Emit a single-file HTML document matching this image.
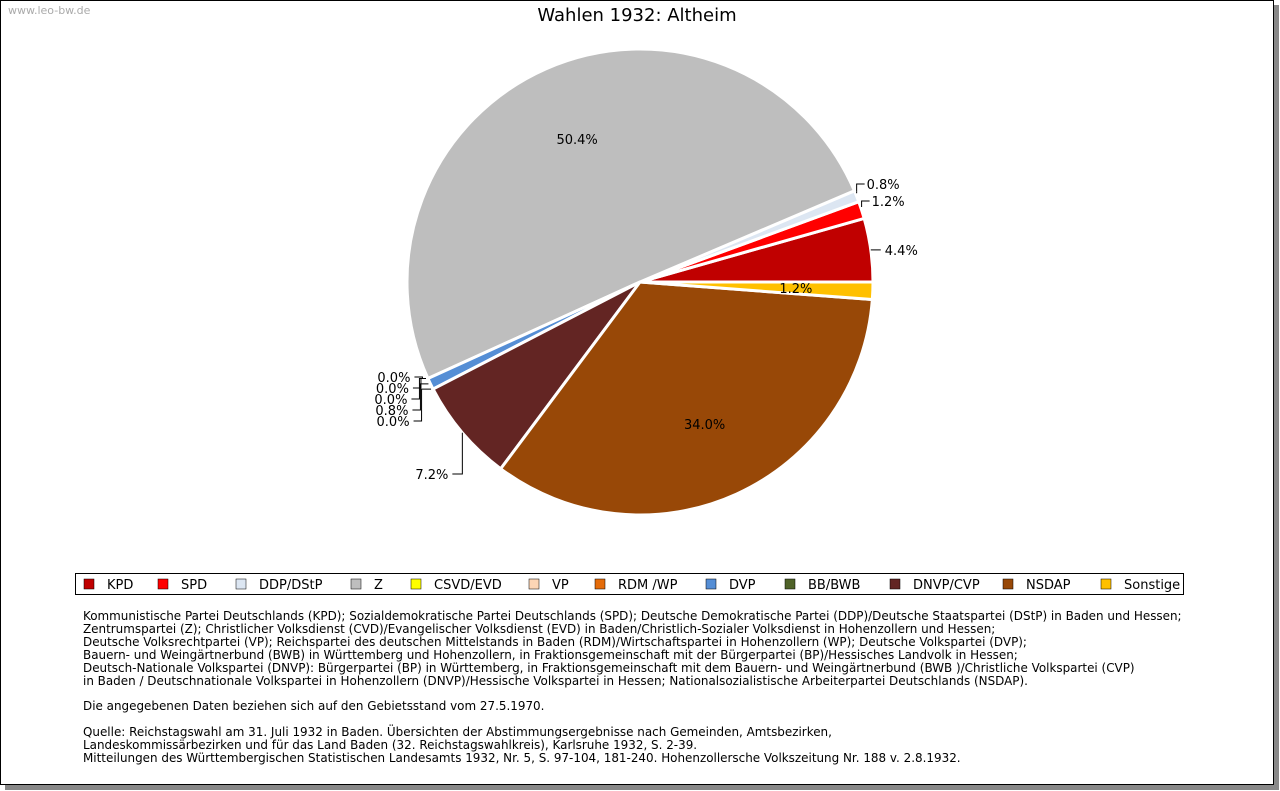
<!DOCTYPE html>
<html><head><meta charset="utf-8"><style>
body{margin:0;background:#fff;width:1280px;height:791px;overflow:hidden;font-family:"DejaVu Sans","Liberation Sans",sans-serif}
#frame{position:absolute;left:0;top:0;width:1272px;height:783px;border:1px solid #000;box-shadow:5px 5px 0 #888;background:#fff}
#notes{position:absolute;left:83px;top:610px;font-size:11.95px;line-height:12.9px;color:#000;white-space:pre}
</style></head><body>
<div id="frame"></div>
<div style="position:absolute;left:8px;top:4px;font-size:11px;color:#aaa">www.leo-bw.de</div>
<svg id="chart" width="1280" height="791" style="position:absolute;left:0;top:0">
<text x="637" y="21" text-anchor="middle" font-size="18">Wahlen 1932: Altheim</text>
<g id="pie"></g>
<g id="legend"></g>
</svg>
<div id="notes">Kommunistische Partei Deutschlands (KPD); Sozialdemokratische Partei Deutschlands (SPD); Deutsche Demokratische Partei (DDP)/Deutsche Staatspartei (DStP) in Baden und Hessen;
Zentrumspartei (Z); Christlicher Volksdienst (CVD)/Evangelischer Volksdienst (EVD) in Baden/Christlich-Sozialer Volksdienst in Hohenzollern und Hessen;
Deutsche Volksrechtpartei (VP); Reichspartei des deutschen Mittelstands in Baden (RDM)/Wirtschaftspartei in Hohenzollern (WP); Deutsche Volkspartei (DVP);
Bauern- und Weingärtnerbund (BWB) in Württemberg und Hohenzollern, in Fraktionsgemeinschaft mit der Bürgerpartei (BP)/Hessisches Landvolk in Hessen;
Deutsch-Nationale Volkspartei (DNVP): Bürgerpartei (BP) in Württemberg, in Fraktionsgemeinschaft mit dem Bauern- und Weingärtnerbund (BWB )/Christliche Volkspartei (CVP)
in Baden / Deutschnationale Volkspartei in Hohenzollern (DNVP)/Hessische Volkspartei in Hessen; Nationalsozialistische Arbeiterpartei Deutschlands (NSDAP).

Die angegebenen Daten beziehen sich auf den Gebietsstand vom 27.5.1970.

Quelle: Reichstagswahl am 31. Juli 1932 in Baden. Übersichten der Abstimmungsergebnisse nach Gemeinden, Amtsbezirken,
Landeskommissärbezirken und für das Land Baden (32. Reichstagswahlkreis), Karlsruhe 1932, S. 2-39.
Mitteilungen des Württembergischen Statistischen Landesamts 1932, Nr. 5, S. 97-104, 181-240. Hohenzollersche Volkszeitung Nr. 188 v. 2.8.1932.</div>
<script>
const parties=["KPD","SPD","DDP/DStP","Z","CSVD/EVD","VP","RDM /WP","DVP","BB/BWB","DNVP/CVP","NSDAP","Sonstige"];
const shares=[4.4,1.2,0.8,50.4,0.0,0.0,0.0,0.8,0.0,7.2,34.0,1.2];
const colors=["#c00000","#ff0000","#dce6f2","#bebebe","#ffff00","#fcd5b5","#e46c0a","#558ed5","#4f6228","#632523","#984807","#ffc000"];
const NS="http://www.w3.org/2000/svg";
const cx=640,cy=282,R=233;
const pie=document.getElementById('pie');
const total=shares.reduce((a,b)=>a+b,0);
function pt(a,r){return [cx+r*Math.cos(a),cy-r*Math.sin(a)];}
const inside=[3,10,11];
let a0=0;
const leftStack=[377,388,399,410,421];let li=0;
shares.forEach((v,i)=>{
  const da=v/total*2*Math.PI,a1=a0+da,mid=a0+da/2;
  if(v>0){
    const p0=pt(a0,R),p1=pt(a1,R);
    const path=document.createElementNS(NS,'path');
    path.setAttribute('d',`M${cx},${cy}L${p0[0]},${p0[1]}A${R},${R} 0 ${da>Math.PI?1:0} 0 ${p1[0]},${p1[1]}Z`);
    path.setAttribute('fill',colors[i]);path.setAttribute('stroke','#fff');path.setAttribute('stroke-width','3');
    
    
    pie.appendChild(path);
  }
  const t=document.createElementNS(NS,'text');
  t.setAttribute('font-size','13');
  t.textContent=v.toFixed(1)+'%';
  if(inside.includes(i)){
    const p=pt(mid,156);t.setAttribute('x',p[0]);t.setAttribute('y',p[1]+5);t.setAttribute('text-anchor','middle');
  } else {
    const e=pt(mid,R);
    const line=document.createElementNS(NS,'polyline');
    let pts,tx,ty,anc;
    if(Math.cos(mid)>0){
      const yy=(i==2)?184:(i==1)?201:e[1];
      const y2=(i==0)?e[1]:yy;
      pts=`${e[0]},${e[1]+(i==0?0:-3)} ${e[0]},${y2} ${e[0]+8},${y2}`;
      if(i==0)pts=`${e[0]},${e[1]} ${e[0]+10},${e[1]}`;
      tx=e[0]+(i==0?14:10);ty=y2+5;anc='start';
    } else if(i==9){
      const yy=474;pts=`${e[0]},${e[1]} ${e[0]},${yy} ${e[0]-10},${yy}`;tx=e[0]-14;ty=yy+5;anc='end';
    } else {
      const yy=leftStack[li++];const xx=e[0]-4-li*1.5;
      pts=`${e[0]-2},${e[1]} ${xx},${e[1]} ${xx},${yy} ${xx-8},${yy}`;tx=xx-12;ty=yy+5;anc='end';
    }
    line.setAttribute('points',pts);line.setAttribute('fill','none');line.setAttribute('stroke','#000');
    
    
    pie.appendChild(line);
    t.setAttribute('x',tx);t.setAttribute('y',ty);t.setAttribute('text-anchor',anc);
  }
  
  
  pie.appendChild(t);
  a0=a1;
});
const lg=document.getElementById('legend');
const box=document.createElementNS(NS,'rect');
box.setAttribute('x',75.5);box.setAttribute('y',573.5);box.setAttribute('width',1108);box.setAttribute('height',21);
box.setAttribute('fill','#fff');box.setAttribute('stroke','#000');


lg.appendChild(box);
const lx=[84,158,236,351,411,529,595,706,785,890,1003,1101];
parties.forEach((p,i)=>{
  const r=document.createElementNS(NS,'rect');
  r.setAttribute('x',lx[i]);r.setAttribute('y',579);r.setAttribute('width',10);r.setAttribute('height',10);
  r.setAttribute('fill',colors[i]);r.setAttribute('stroke','#000');r.setAttribute('stroke-width','0.5');
  
  
  lg.appendChild(r);
  const t=document.createElementNS(NS,'text');
  t.setAttribute('x',lx[i]+23);t.setAttribute('y',589);t.setAttribute('font-size','13');t.textContent=p;
  
  
  lg.appendChild(t);
});
</script>
</body></html>
